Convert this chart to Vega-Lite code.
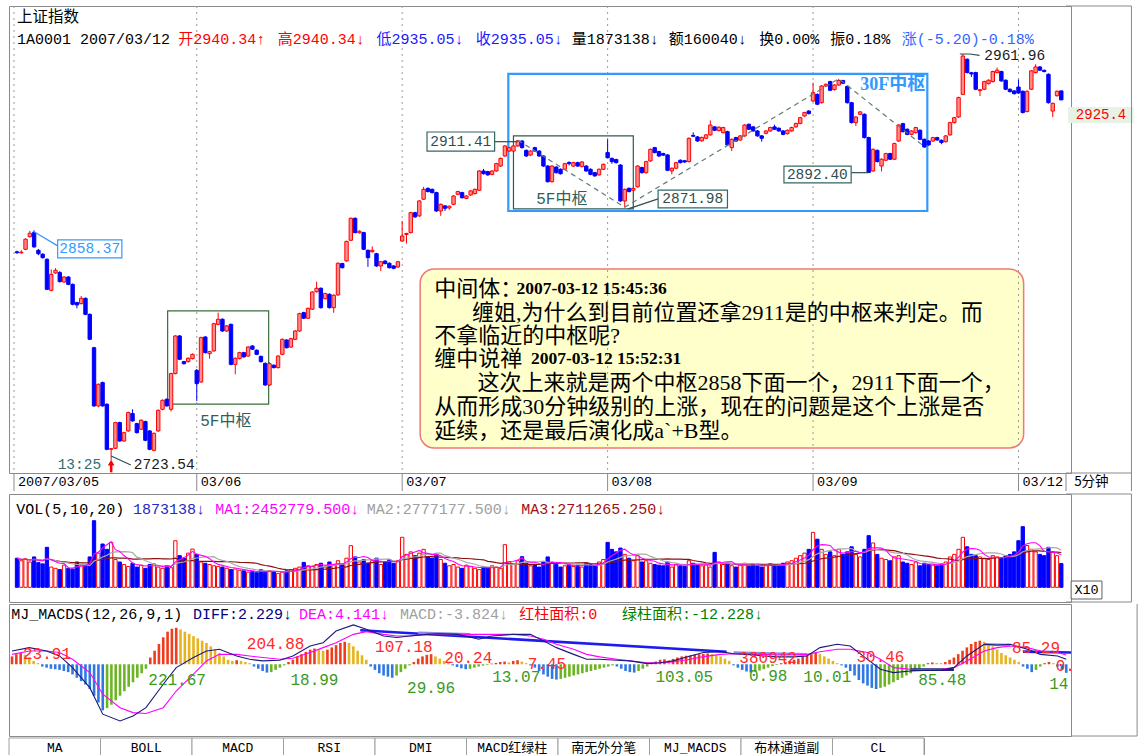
{
"$schema":"https://vega.github.io/schema/vega-lite/v6.json",
"background":"#ffffff",
"padding":{"left":8,"top":5,"right":4,"bottom":5},
"spacing":0,
"config":{"view":{"stroke":"#8a8a8a","strokeWidth":1},"concat":{"spacing":0}},
"datasets":{
"k":[
{"i":0,"o":2845.8,"h":2846.5,"l":2844.6,"c":2845.3,"v":230000,"m":3.5},
{"i":1,"o":2845.2,"h":2846.8,"l":2844.8,"c":2845.6,"v":210000,"m":4.5},
{"i":2,"o":2847.3,"h":2853.8,"l":2846.8,"c":2853.2,"v":225000,"m":5.0},
{"i":3,"o":2854.7,"h":2858.1,"l":2854.2,"c":2856.7,"v":200000,"m":4.2},
{"i":4,"o":2857.1,"h":2858.4,"l":2848.2,"c":2848.7,"v":240000,"m":3.0},
{"i":5,"o":2846.7,"h":2847.5,"l":2843.8,"c":2844.7,"v":195000,"m":1.5},
{"i":6,"o":2844.4,"h":2845.0,"l":2841.8,"c":2842.4,"v":185000,"m":0.5},
{"i":7,"o":2841.4,"h":2842.0,"l":2823.3,"c":2823.8,"v":316000,"m":-1},
{"i":8,"o":2823.2,"h":2835.5,"l":2822.6,"c":2832.6,"v":160000,"m":-1.5},
{"i":9,"o":2833.4,"h":2836.2,"l":2832.9,"c":2835.0,"v":150000,"m":-2},
{"i":10,"o":2833.6,"h":2834.5,"l":2827.8,"c":2828.3,"v":140000,"m":-2.2},
{"i":11,"o":2828.1,"h":2831.6,"l":2827.6,"c":2831.0,"v":175000,"m":-2.5},
{"i":12,"o":2831.0,"h":2831.6,"l":2826.2,"c":2826.7,"v":150000,"m":-3},
{"i":13,"o":2826.7,"h":2827.2,"l":2814.4,"c":2815.0,"v":145000,"m":-3.5},
{"i":14,"o":2816.0,"h":2816.5,"l":2812.6,"c":2814.6,"v":200000,"m":-4.5},
{"i":15,"o":2815.4,"h":2819.9,"l":2814.9,"c":2818.5,"v":170000,"m":-6},
{"i":16,"o":2818.5,"h":2819.0,"l":2808.6,"c":2809.1,"v":180000,"m":-7.5},
{"i":17,"o":2809.1,"h":2809.6,"l":2794.0,"c":2794.4,"v":240000,"m":-9},
{"i":18,"o":2789.5,"h":2790.0,"l":2754.8,"c":2755.3,"v":526000,"m":-11},
{"i":19,"o":2755.3,"h":2768.5,"l":2754.5,"c":2768.0,"v":270000,"m":-14},
{"i":20,"o":2769.0,"h":2769.6,"l":2754.8,"c":2755.3,"v":342000,"m":-17},
{"i":21,"o":2756.3,"h":2756.8,"l":2729.3,"c":2729.8,"v":300000,"m":-20.5},
{"i":22,"o":2729.8,"h":2730.6,"l":2723.5,"c":2730.2,"v":355000,"m":-19.5},
{"i":23,"o":2730.4,"h":2746.0,"l":2730.0,"c":2745.5,"v":220000,"m":-18},
{"i":24,"o":2745.5,"h":2746.0,"l":2734.2,"c":2734.7,"v":200000,"m":-16},
{"i":25,"o":2734.7,"h":2740.1,"l":2734.2,"c":2739.6,"v":180000,"m":-14},
{"i":26,"o":2740.6,"h":2751.9,"l":2740.1,"c":2751.4,"v":165000,"m":-12},
{"i":27,"o":2750.8,"h":2753.3,"l":2746.0,"c":2746.5,"v":190000,"m":-10},
{"i":28,"o":2744.9,"h":2745.4,"l":2739.1,"c":2739.6,"v":160000,"m":-8},
{"i":29,"o":2741.6,"h":2747.4,"l":2741.1,"c":2746.9,"v":175000,"m":-6},
{"i":30,"o":2746.1,"h":2746.6,"l":2734.6,"c":2735.1,"v":150000,"m":-4},
{"i":31,"o":2740.6,"h":2741.1,"l":2729.3,"c":2729.8,"v":180000,"m":-2},
{"i":32,"o":2729.2,"h":2739.7,"l":2728.7,"c":2739.2,"v":185000,"m":3},
{"i":33,"o":2740.6,"h":2753.2,"l":2740.1,"c":2752.7,"v":160000,"m":6},
{"i":34,"o":2753.3,"h":2759.1,"l":2752.8,"c":2758.6,"v":150000,"m":9},
{"i":35,"o":2759.2,"h":2759.7,"l":2754.8,"c":2755.3,"v":170000,"m":12},
{"i":36,"o":2753.3,"h":2774.8,"l":2752.0,"c":2774.3,"v":155000,"m":14.5},
{"i":37,"o":2774.3,"h":2796.9,"l":2773.8,"c":2796.4,"v":368000,"m":15.8},
{"i":38,"o":2796.4,"h":2796.9,"l":2782.2,"c":2782.7,"v":250000,"m":16.2},
{"i":39,"o":2781.3,"h":2781.8,"l":2779.6,"c":2780.1,"v":230000,"m":15.5},
{"i":40,"o":2781.3,"h":2783.8,"l":2780.8,"c":2783.3,"v":270000,"m":14.5},
{"i":41,"o":2783.1,"h":2786.1,"l":2782.6,"c":2785.6,"v":302000,"m":13.5},
{"i":42,"o":2776.2,"h":2777.0,"l":2758.2,"c":2768.4,"v":260000,"m":12.5},
{"i":43,"o":2769.4,"h":2796.0,"l":2768.9,"c":2795.4,"v":200000,"m":11.5},
{"i":44,"o":2795.8,"h":2796.3,"l":2786.1,"c":2786.6,"v":190000,"m":10.5},
{"i":45,"o":2786.0,"h":2787.7,"l":2783.0,"c":2787.2,"v":180000,"m":9.5},
{"i":46,"o":2787.6,"h":2804.1,"l":2787.1,"c":2803.6,"v":170000,"m":8},
{"i":47,"o":2803.2,"h":2810.1,"l":2802.7,"c":2806.2,"v":165000,"m":6.5},
{"i":48,"o":2806.2,"h":2806.7,"l":2798.8,"c":2799.3,"v":160000,"m":5},
{"i":49,"o":2799.3,"h":2802.8,"l":2798.8,"c":2802.3,"v":150000,"m":3.5},
{"i":50,"o":2803.2,"h":2803.7,"l":2779.2,"c":2779.7,"v":140000,"m":2},
{"i":51,"o":2779.7,"h":2783.8,"l":2773.9,"c":2783.3,"v":145000,"m":1.5},
{"i":52,"o":2783.1,"h":2787.1,"l":2782.6,"c":2786.6,"v":135000,"m":1.8},
{"i":53,"o":2786.6,"h":2787.1,"l":2783.6,"c":2784.1,"v":130000,"m":1.5},
{"i":54,"o":2784.6,"h":2790.4,"l":2784.1,"c":2789.9,"v":120000,"m":1},
{"i":55,"o":2790.5,"h":2791.0,"l":2788.1,"c":2788.6,"v":125000,"m":0.5},
{"i":56,"o":2788.0,"h":2788.5,"l":2785.1,"c":2785.6,"v":115000,"m":-1},
{"i":57,"o":2784.4,"h":2784.9,"l":2780.8,"c":2781.3,"v":140000,"m":-2},
{"i":58,"o":2780.3,"h":2780.8,"l":2767.1,"c":2767.6,"v":120000,"m":-3},
{"i":59,"o":2767.6,"h":2781.0,"l":2767.1,"c":2780.1,"v":130000,"m":-3.7},
{"i":60,"o":2779.2,"h":2779.7,"l":2777.3,"c":2777.8,"v":125000,"m":-3.5},
{"i":61,"o":2777.8,"h":2785.1,"l":2777.3,"c":2784.6,"v":110000,"m":-2.5},
{"i":62,"o":2785.6,"h":2794.9,"l":2785.1,"c":2794.4,"v":120000,"m":-1.5},
{"i":63,"o":2794.0,"h":2794.5,"l":2789.0,"c":2789.5,"v":130000,"m":-0.5},
{"i":64,"o":2789.9,"h":2795.3,"l":2789.4,"c":2794.8,"v":140000,"m":1},
{"i":65,"o":2794.4,"h":2799.8,"l":2793.9,"c":2799.3,"v":150000,"m":2},
{"i":66,"o":2799.3,"h":2810.0,"l":2798.8,"c":2809.5,"v":160000,"m":3.5},
{"i":67,"o":2810.1,"h":2810.6,"l":2806.3,"c":2806.8,"v":197000,"m":4.5},
{"i":68,"o":2806.8,"h":2813.1,"l":2806.3,"c":2812.6,"v":170000,"m":5.5},
{"i":69,"o":2812.1,"h":2822.7,"l":2811.6,"c":2822.2,"v":165000,"m":6.5},
{"i":70,"o":2822.4,"h":2828.3,"l":2821.9,"c":2824.4,"v":180000,"m":7},
{"i":71,"o":2824.4,"h":2824.9,"l":2812.5,"c":2813.0,"v":190000,"m":6.5},
{"i":72,"o":2818.3,"h":2821.8,"l":2817.8,"c":2821.3,"v":160000,"m":6},
{"i":73,"o":2820.9,"h":2821.4,"l":2812.5,"c":2813.0,"v":200000,"m":6.5},
{"i":74,"o":2813.0,"h":2820.8,"l":2810.0,"c":2820.3,"v":175000,"m":7.5},
{"i":75,"o":2820.5,"h":2839.6,"l":2820.0,"c":2839.1,"v":210000,"m":8.5},
{"i":76,"o":2838.9,"h":2839.4,"l":2836.0,"c":2836.5,"v":180000,"m":9.5},
{"i":77,"o":2840.5,"h":2852.4,"l":2840.0,"c":2851.9,"v":230000,"m":10},
{"i":78,"o":2852.6,"h":2866.0,"l":2852.1,"c":2865.5,"v":329000,"m":9.5},
{"i":79,"o":2865.5,"h":2866.0,"l":2856.6,"c":2857.1,"v":240000,"m":8},
{"i":80,"o":2857.0,"h":2858.5,"l":2856.5,"c":2857.9,"v":200000,"m":6},
{"i":81,"o":2857.1,"h":2857.6,"l":2846.8,"c":2847.3,"v":220000,"m":4},
{"i":82,"o":2846.7,"h":2847.2,"l":2837.0,"c":2842.4,"v":190000,"m":2},
{"i":83,"o":2845.9,"h":2849.0,"l":2845.4,"c":2846.7,"v":210000,"m":-1},
{"i":84,"o":2844.7,"h":2845.2,"l":2837.0,"c":2837.5,"v":230000,"m":-2.5},
{"i":85,"o":2837.5,"h":2840.5,"l":2834.5,"c":2840.0,"v":180000,"m":-4},
{"i":86,"o":2840.4,"h":2840.9,"l":2838.4,"c":2838.9,"v":200000,"m":-5},
{"i":87,"o":2839.1,"h":2839.6,"l":2836.0,"c":2836.5,"v":220000,"m":-5.5},
{"i":88,"o":2837.5,"h":2838.0,"l":2835.6,"c":2836.1,"v":190000,"m":-6},
{"i":89,"o":2836.9,"h":2840.5,"l":2836.4,"c":2840.0,"v":210000,"m":-5},
{"i":90,"o":2852.2,"h":2863.9,"l":2851.7,"c":2855.1,"v":395000,"m":-3.5},
{"i":91,"o":2856.0,"h":2857.0,"l":2850.6,"c":2856.6,"v":260000,"m":-2},
{"i":92,"o":2857.1,"h":2869.3,"l":2856.6,"c":2868.8,"v":280000,"m":-0.5},
{"i":93,"o":2868.8,"h":2869.3,"l":2865.8,"c":2866.3,"v":250000,"m":1},
{"i":94,"o":2866.9,"h":2876.2,"l":2866.4,"c":2875.7,"v":270000,"m":2.5},
{"i":95,"o":2876.7,"h":2884.0,"l":2876.2,"c":2882.5,"v":300000,"m":3.5},
{"i":96,"o":2883.1,"h":2883.6,"l":2880.7,"c":2881.2,"v":240000,"m":4.2},
{"i":97,"o":2882.5,"h":2883.0,"l":2880.1,"c":2880.6,"v":230000,"m":4.5},
{"i":98,"o":2880.6,"h":2881.1,"l":2869.3,"c":2869.8,"v":260000,"m":3.5},
{"i":99,"o":2869.8,"h":2874.2,"l":2867.0,"c":2873.7,"v":220000,"m":2.5},
{"i":100,"o":2872.8,"h":2873.3,"l":2869.8,"c":2871.4,"v":190000,"m":1.5},
{"i":101,"o":2871.6,"h":2873.0,"l":2870.5,"c":2872.6,"v":170000,"m":0.5},
{"i":102,"o":2873.7,"h":2879.1,"l":2873.2,"c":2878.6,"v":180000,"m":-0.5},
{"i":103,"o":2879.6,"h":2881.7,"l":2879.1,"c":2881.2,"v":160000,"m":-1.2},
{"i":104,"o":2880.6,"h":2881.1,"l":2877.1,"c":2877.6,"v":150000,"m":-1.8},
{"i":105,"o":2877.2,"h":2879.1,"l":2876.7,"c":2878.6,"v":175000,"m":-2.2},
{"i":106,"o":2879.2,"h":2882.1,"l":2878.7,"c":2881.6,"v":165000,"m":-2},
{"i":107,"o":2880.0,"h":2883.0,"l":2879.5,"c":2882.5,"v":150000,"m":-1.5},
{"i":108,"o":2882.0,"h":2893.8,"l":2881.5,"c":2893.3,"v":140000,"m":-1},
{"i":109,"o":2893.3,"h":2894.5,"l":2891.2,"c":2891.7,"v":160000,"m":-0.6},
{"i":110,"o":2892.9,"h":2893.4,"l":2890.5,"c":2891.0,"v":155000,"m":-0.3},
{"i":111,"o":2891.3,"h":2893.8,"l":2890.8,"c":2893.3,"v":170000,"m":0.3},
{"i":112,"o":2893.3,"h":2898.1,"l":2892.8,"c":2897.6,"v":160000,"m":0.6},
{"i":113,"o":2896.2,"h":2901.2,"l":2895.7,"c":2900.7,"v":150000,"m":1},
{"i":114,"o":2902.1,"h":2908.5,"l":2901.6,"c":2908.0,"v":337000,"m":1.2},
{"i":115,"o":2905.0,"h":2907.5,"l":2904.5,"c":2907.0,"v":200000,"m":0.8},
{"i":116,"o":2905.0,"h":2908.5,"l":2904.5,"c":2908.0,"v":180000,"m":1.5},
{"i":117,"o":2908.0,"h":2911.4,"l":2907.5,"c":2911.0,"v":210000,"m":1.8},
{"i":118,"o":2910.9,"h":2911.4,"l":2906.5,"c":2907.0,"v":242000,"m":1.2},
{"i":119,"o":2905.4,"h":2905.9,"l":2901.6,"c":2902.1,"v":190000,"m":0.5},
{"i":120,"o":2902.7,"h":2905.5,"l":2902.2,"c":2905.0,"v":170000,"m":-0.5},
{"i":121,"o":2907.0,"h":2907.5,"l":2904.5,"c":2905.0,"v":180000,"m":-1.5},
{"i":122,"o":2905.0,"h":2905.5,"l":2901.6,"c":2902.1,"v":160000,"m":-3},
{"i":123,"o":2902.1,"h":2902.6,"l":2895.7,"c":2896.2,"v":200000,"m":-4.5},
{"i":124,"o":2896.2,"h":2896.7,"l":2886.5,"c":2887.0,"v":240000,"m":-5.5},
{"i":125,"o":2887.0,"h":2896.7,"l":2886.5,"c":2896.2,"v":200000,"m":-6.5},
{"i":126,"o":2895.6,"h":2896.1,"l":2891.8,"c":2892.3,"v":180000,"m":-6.8},
{"i":127,"o":2894.3,"h":2894.8,"l":2891.2,"c":2891.7,"v":160000,"m":-6.5},
{"i":128,"o":2894.3,"h":2898.1,"l":2893.8,"c":2897.6,"v":170000,"m":-6},
{"i":129,"o":2898.3,"h":2899.0,"l":2896.5,"c":2897.6,"v":180000,"m":-5.5},
{"i":130,"o":2896.2,"h":2898.7,"l":2895.7,"c":2898.2,"v":165000,"m":-5},
{"i":131,"o":2898.2,"h":2898.7,"l":2895.7,"c":2896.2,"v":175000,"m":-4.5},
{"i":132,"o":2895.9,"h":2899.1,"l":2895.4,"c":2898.6,"v":160000,"m":-4},
{"i":133,"o":2896.2,"h":2896.7,"l":2892.8,"c":2893.3,"v":190000,"m":-3.5},
{"i":134,"o":2894.3,"h":2894.8,"l":2890.8,"c":2891.3,"v":180000,"m":-3},
{"i":135,"o":2892.3,"h":2892.8,"l":2889.9,"c":2890.4,"v":170000,"m":-2.5},
{"i":136,"o":2891.0,"h":2894.8,"l":2890.5,"c":2894.3,"v":200000,"m":-2},
{"i":137,"o":2894.3,"h":2897.7,"l":2893.8,"c":2897.2,"v":220000,"m":-1.5},
{"i":138,"o":2904.1,"h":2911.9,"l":2900.6,"c":2901.1,"v":355000,"m":-1},
{"i":139,"o":2900.7,"h":2901.2,"l":2897.5,"c":2898.8,"v":300000,"m":-0.5},
{"i":140,"o":2900.0,"h":2900.5,"l":2897.7,"c":2898.2,"v":280000,"m":-1},
{"i":141,"o":2896.8,"h":2897.3,"l":2875.2,"c":2875.7,"v":310000,"m":-2},
{"i":142,"o":2875.7,"h":2883.0,"l":2872.0,"c":2882.5,"v":260000,"m":-3},
{"i":143,"o":2883.1,"h":2883.6,"l":2880.7,"c":2881.2,"v":230000,"m":-3.5},
{"i":144,"o":2882.0,"h":2883.6,"l":2881.5,"c":2883.1,"v":210000,"m":-3.7},
{"i":145,"o":2884.0,"h":2896.7,"l":2883.5,"c":2896.2,"v":250000,"m":-3},
{"i":146,"o":2895.3,"h":2895.8,"l":2891.8,"c":2892.3,"v":200000,"m":-2},
{"i":147,"o":2892.3,"h":2899.3,"l":2891.8,"c":2898.8,"v":210000,"m":-1},
{"i":148,"o":2899.2,"h":2906.5,"l":2898.7,"c":2906.0,"v":190000,"m":0.5},
{"i":149,"o":2907.0,"h":2907.5,"l":2903.6,"c":2904.1,"v":180000,"m":1.2},
{"i":150,"o":2904.7,"h":2905.2,"l":2901.6,"c":2902.1,"v":175000,"m":2},
{"i":151,"o":2903.5,"h":2904.0,"l":2902.1,"c":2902.6,"v":170000,"m":2.2},
{"i":152,"o":2902.7,"h":2903.2,"l":2893.2,"c":2893.7,"v":200000,"m":1.8},
{"i":153,"o":2893.3,"h":2895.4,"l":2891.3,"c":2894.9,"v":160000,"m":2.4},
{"i":154,"o":2894.9,"h":2898.7,"l":2894.4,"c":2898.2,"v":180000,"m":3},
{"i":155,"o":2899.6,"h":2900.1,"l":2897.7,"c":2898.2,"v":170000,"m":3.5},
{"i":156,"o":2899.3,"h":2899.8,"l":2898.0,"c":2898.6,"v":165000,"m":3.8},
{"i":157,"o":2898.8,"h":2913.0,"l":2898.3,"c":2912.5,"v":210000,"m":4},
{"i":158,"o":2914.2,"h":2916.0,"l":2913.2,"c":2913.7,"v":190000,"m":4.3},
{"i":159,"o":2913.3,"h":2913.8,"l":2910.4,"c":2910.9,"v":180000,"m":4.5},
{"i":160,"o":2911.0,"h":2913.5,"l":2910.5,"c":2913.0,"v":170000,"m":4.6},
{"i":161,"o":2912.5,"h":2915.0,"l":2912.0,"c":2914.5,"v":175000,"m":4.8},
{"i":162,"o":2914.5,"h":2923.0,"l":2914.0,"c":2920.3,"v":160000,"m":4.5},
{"i":163,"o":2919.2,"h":2919.7,"l":2916.7,"c":2917.2,"v":276000,"m":4},
{"i":164,"o":2917.0,"h":2919.5,"l":2916.5,"c":2919.0,"v":200000,"m":3.5},
{"i":165,"o":2915.8,"h":2919.3,"l":2915.3,"c":2918.8,"v":180000,"m":2.5},
{"i":166,"o":2916.4,"h":2916.9,"l":2908.1,"c":2908.6,"v":190000,"m":1.5},
{"i":167,"o":2907.0,"h":2912.4,"l":2905.0,"c":2911.9,"v":170000,"m":-0.5},
{"i":168,"o":2912.9,"h":2913.4,"l":2910.4,"c":2910.9,"v":160000,"m":-1.5},
{"i":169,"o":2911.5,"h":2914.4,"l":2911.0,"c":2913.9,"v":175000,"m":-2.5},
{"i":170,"o":2913.9,"h":2920.8,"l":2913.4,"c":2920.3,"v":190000,"m":-3.2},
{"i":171,"o":2920.7,"h":2921.2,"l":2917.3,"c":2917.8,"v":165000,"m":-3.7},
{"i":172,"o":2919.2,"h":2919.7,"l":2916.3,"c":2916.8,"v":180000,"m":-3.3},
{"i":173,"o":2916.8,"h":2917.3,"l":2913.4,"c":2913.9,"v":170000,"m":-2.8},
{"i":174,"o":2913.9,"h":2914.4,"l":2910.5,"c":2912.5,"v":160000,"m":-2.2},
{"i":175,"o":2915.4,"h":2917.3,"l":2914.9,"c":2916.8,"v":175000,"m":-1.5},
{"i":176,"o":2916.8,"h":2919.3,"l":2916.3,"c":2918.8,"v":185000,"m":-0.8},
{"i":177,"o":2919.2,"h":2920.5,"l":2917.3,"c":2917.8,"v":170000,"m":-0.3},
{"i":178,"o":2918.4,"h":2918.9,"l":2916.3,"c":2916.8,"v":180000,"m":0.5},
{"i":179,"o":2916.8,"h":2917.3,"l":2914.3,"c":2914.8,"v":190000,"m":1},
{"i":180,"o":2915.2,"h":2917.7,"l":2914.7,"c":2917.2,"v":200000,"m":1.5},
{"i":181,"o":2916.8,"h":2919.3,"l":2916.3,"c":2918.8,"v":210000,"m":2},
{"i":182,"o":2919.2,"h":2921.7,"l":2918.7,"c":2921.2,"v":230000,"m":2.5},
{"i":183,"o":2921.2,"h":2925.1,"l":2920.7,"c":2924.6,"v":250000,"m":3.5},
{"i":184,"o":2925.6,"h":2928.1,"l":2925.1,"c":2927.6,"v":270000,"m":4},
{"i":185,"o":2928.5,"h":2929.0,"l":2926.5,"c":2927.0,"v":300000,"m":4.5},
{"i":186,"o":2934.4,"h":2945.2,"l":2933.9,"c":2939.3,"v":434000,"m":5},
{"i":187,"o":2938.3,"h":2938.8,"l":2932.0,"c":2932.5,"v":380000,"m":4.5},
{"i":188,"o":2933.4,"h":2943.7,"l":2932.9,"c":2943.2,"v":300000,"m":3.5},
{"i":189,"o":2943.2,"h":2944.7,"l":2942.7,"c":2944.2,"v":260000,"m":2.5},
{"i":190,"o":2945.8,"h":2946.3,"l":2940.2,"c":2940.7,"v":280000,"m":1.5},
{"i":191,"o":2941.1,"h":2944.3,"l":2940.6,"c":2943.8,"v":250000,"m":0.5},
{"i":192,"o":2943.8,"h":2947.5,"l":2943.3,"c":2946.4,"v":300000,"m":-0.5},
{"i":193,"o":2946.4,"h":2946.9,"l":2944.3,"c":2944.8,"v":260000,"m":-1.5},
{"i":194,"o":2943.0,"h":2943.5,"l":2932.9,"c":2933.4,"v":280000,"m":-3},
{"i":195,"o":2933.4,"h":2933.9,"l":2921.2,"c":2921.7,"v":320000,"m":-5},
{"i":196,"o":2921.7,"h":2925.5,"l":2919.7,"c":2925.0,"v":260000,"m":-7},
{"i":197,"o":2926.6,"h":2928.5,"l":2926.1,"c":2928.0,"v":240000,"m":-8.5},
{"i":198,"o":2926.6,"h":2927.1,"l":2912.4,"c":2912.9,"v":300000,"m":-9.5},
{"i":199,"o":2912.9,"h":2913.4,"l":2892.4,"c":2892.4,"v":408000,"m":-10.5},
{"i":200,"o":2893.3,"h":2906.5,"l":2892.8,"c":2906.0,"v":350000,"m":-11},
{"i":201,"o":2905.4,"h":2905.9,"l":2898.3,"c":2898.8,"v":260000,"m":-10.5},
{"i":202,"o":2896.2,"h":2900.7,"l":2893.0,"c":2900.2,"v":230000,"m":-10},
{"i":203,"o":2899.6,"h":2904.0,"l":2899.1,"c":2903.5,"v":220000,"m":-9},
{"i":204,"o":2903.5,"h":2904.0,"l":2899.7,"c":2900.2,"v":210000,"m":-8},
{"i":205,"o":2900.2,"h":2909.9,"l":2899.7,"c":2909.4,"v":240000,"m":-7},
{"i":206,"o":2910.9,"h":2920.8,"l":2910.4,"c":2920.3,"v":250000,"m":-6},
{"i":207,"o":2921.1,"h":2921.6,"l":2915.9,"c":2916.4,"v":200000,"m":-5},
{"i":208,"o":2917.8,"h":2918.3,"l":2914.3,"c":2914.8,"v":190000,"m":-4},
{"i":209,"o":2914.8,"h":2917.3,"l":2914.3,"c":2916.8,"v":180000,"m":-3},
{"i":210,"o":2915.8,"h":2919.3,"l":2915.3,"c":2918.8,"v":200000,"m":-2},
{"i":211,"o":2917.2,"h":2917.7,"l":2911.4,"c":2911.9,"v":170000,"m":-1},
{"i":212,"o":2911.9,"h":2912.4,"l":2906.9,"c":2907.4,"v":190000,"m":0.5},
{"i":213,"o":2910.9,"h":2911.4,"l":2908.1,"c":2908.6,"v":180000,"m":0.8},
{"i":214,"o":2910.9,"h":2913.4,"l":2910.4,"c":2912.9,"v":175000,"m":0.6},
{"i":215,"o":2912.9,"h":2913.4,"l":2911.0,"c":2911.5,"v":170000,"m":0.5},
{"i":216,"o":2911.3,"h":2911.8,"l":2909.0,"c":2910.0,"v":185000,"m":1},
{"i":217,"o":2910.5,"h":2914.4,"l":2910.0,"c":2913.9,"v":200000,"m":2},
{"i":218,"o":2914.5,"h":2922.2,"l":2914.0,"c":2921.7,"v":240000,"m":3},
{"i":219,"o":2921.7,"h":2925.1,"l":2921.2,"c":2924.6,"v":260000,"m":4.5},
{"i":220,"o":2925.0,"h":2936.9,"l":2924.5,"c":2936.4,"v":300000,"m":6},
{"i":221,"o":2938.3,"h":2962.0,"l":2937.8,"c":2960.8,"v":395000,"m":7.5},
{"i":222,"o":2958.9,"h":2959.4,"l":2950.6,"c":2951.1,"v":320000,"m":9},
{"i":223,"o":2951.0,"h":2951.5,"l":2948.5,"c":2950.3,"v":260000,"m":10},
{"i":224,"o":2951.1,"h":2951.6,"l":2940.8,"c":2941.3,"v":250000,"m":10.5},
{"i":225,"o":2940.5,"h":2941.5,"l":2937.3,"c":2941.0,"v":240000,"m":10},
{"i":226,"o":2941.3,"h":2946.3,"l":2940.8,"c":2945.8,"v":230000,"m":9},
{"i":227,"o":2944.6,"h":2947.1,"l":2944.1,"c":2946.6,"v":220000,"m":8},
{"i":228,"o":2945.8,"h":2952.2,"l":2945.3,"c":2951.7,"v":250000,"m":6.5},
{"i":229,"o":2951.1,"h":2954.0,"l":2950.6,"c":2952.5,"v":240000,"m":5},
{"i":230,"o":2951.7,"h":2952.2,"l":2945.7,"c":2946.2,"v":230000,"m":4},
{"i":231,"o":2946.6,"h":2947.1,"l":2940.8,"c":2941.3,"v":250000,"m":3},
{"i":232,"o":2941.3,"h":2941.8,"l":2939.4,"c":2939.9,"v":260000,"m":2},
{"i":233,"o":2940.3,"h":2940.8,"l":2938.2,"c":2938.7,"v":280000,"m":1},
{"i":234,"o":2942.6,"h":2947.0,"l":2938.6,"c":2939.1,"v":368000,"m":-1},
{"i":235,"o":2940.1,"h":2940.6,"l":2927.1,"c":2927.6,"v":479000,"m":-2},
{"i":236,"o":2928.2,"h":2940.6,"l":2927.7,"c":2940.1,"v":330000,"m":-3.5},
{"i":237,"o":2941.3,"h":2952.6,"l":2940.8,"c":2952.1,"v":300000,"m":-2.5},
{"i":238,"o":2951.1,"h":2956.0,"l":2950.6,"c":2954.4,"v":280000,"m":-1},
{"i":239,"o":2954.4,"h":2954.9,"l":2952.0,"c":2952.5,"v":260000,"m":0.5},
{"i":240,"o":2952.4,"h":2952.9,"l":2951.2,"c":2951.7,"v":250000,"m":1},
{"i":241,"o":2950.1,"h":2950.6,"l":2932.9,"c":2933.4,"v":316000,"m":0.5},
{"i":242,"o":2928.5,"h":2933.5,"l":2925.0,"c":2933.0,"v":280000,"m":-1},
{"i":243,"o":2937.5,"h":2940.6,"l":2937.0,"c":2940.1,"v":250000,"m":-2.5},
{"i":244,"o":2940.34,"h":2940.34,"l":2935.05,"c":2935.05,"v":187314,"m":-3.8}
],
"dl":[{"i":0,"d":5.9,"e":4.4},{"i":4,"d":7.4,"e":5.9},{"i":8,"d":5.9,"e":5.9},{"i":11,"d":3.7,"e":5.2},{"i":14,"d":-1.5,"e":2.2},{"i":18,"d":-10.4,"e":-3.7},{"i":21,"d":-22.2,"e":-13.3},{"i":25,"d":-25.2,"e":-19.3},{"i":28,"d":-23,"e":-21.5},{"i":31,"d":-19.3,"e":-21.9},{"i":35,"d":-8.9,"e":-19.3},{"i":38,"d":-1.5,"e":-11.9},{"i":42,"d":3,"e":-4.4},{"i":45,"d":5.9,"e":1.5},{"i":48,"d":6.7,"e":4.4},{"i":52,"d":3.7,"e":4.4},{"i":55,"d":2.2,"e":3.7},{"i":58,"d":1.5,"e":3},{"i":62,"d":1.8,"e":2.2},{"i":65,"d":3.7,"e":2.7},{"i":69,"d":8.1,"e":5.2},{"i":72,"d":9.6,"e":7.4},{"i":75,"d":14.8,"e":9.6},{"i":79,"d":17.5,"e":13.3},{"i":82,"d":15.6,"e":14.5},{"i":86,"d":12.6,"e":13.3},{"i":89,"d":11.9,"e":12.6},{"i":92,"d":12.6,"e":12.6},{"i":96,"d":13.3,"e":13.3},{"i":99,"d":13.6,"e":13.6},{"i":103,"d":13.3,"e":13.4},{"i":106,"d":12.1,"e":13.3},{"i":108,"d":11.1,"e":13.3},{"i":111,"d":12.6,"e":13.3},{"i":116,"d":13.3,"e":13.3},{"i":120,"d":13.3,"e":12.6},{"i":123,"d":10.4,"e":11.1},{"i":126,"d":7.4,"e":8.9},{"i":130,"d":4.4,"e":6.7},{"i":133,"d":2.2,"e":4.4},{"i":136,"d":2.2,"e":3.3},{"i":140,"d":1.8,"e":2.2},{"i":143,"d":1.5,"e":1.5},{"i":147,"d":0.3,"e":0.7},{"i":150,"d":0.7,"e":0.7},{"i":153,"d":1.5,"e":1.0},{"i":157,"d":3.7,"e":2.2},{"i":160,"d":5.2,"e":3.4},{"i":164,"d":5.6,"e":4.4},{"i":167,"d":4.7,"e":4.7},{"i":170,"d":4.4,"e":4.5},{"i":174,"d":3.7,"e":4.4},{"i":177,"d":3.3,"e":4.1},{"i":181,"d":3.3,"e":4.2},{"i":184,"d":3.7,"e":4.4},{"i":187,"d":7.4,"e":5.6},{"i":191,"d":8.9,"e":6.7},{"i":194,"d":8.1,"e":6.7},{"i":198,"d":2.2,"e":5.2},{"i":201,"d":-2.2,"e":2.2},{"i":204,"d":-3.7,"e":-1.5},{"i":208,"d":-3,"e":-2.2},{"i":211,"d":-2.7,"e":-2.3},{"i":215,"d":-2.7,"e":-2.2},{"i":218,"d":-1.5,"e":-1.5},{"i":221,"d":3.7,"e":1.5},{"i":225,"d":8.9,"e":5.9},{"i":228,"d":8.6,"e":7.4},{"i":231,"d":8.9,"e":8.1},{"i":235,"d":6.7,"e":7.4},{"i":238,"d":4.4,"e":5.9},{"i":242,"d":3.7,"e":5.2},{"i":244,"d":2.229,"e":4.141}],
"tl":[{"g":1,"k":"b","i":80.6,"m":15.1},{"g":1,"k":"b","i":165.4,"m":5.6},{"g":2,"k":"b","i":234,"m":5.6},{"g":2,"k":"b","i":245.1,"m":5.2},{"g":3,"k":"v","i":94,"m":14},{"g":3,"k":"v","i":106,"m":13.3},{"g":4,"k":"v","i":167,"m":5.2},{"g":4,"k":"v","i":184,"m":4.4},{"g":5,"k":"v","i":225,"m":8.9},{"g":5,"k":"v","i":231,"m":8.5},{"g":6,"k":"n","i":208,"m":-2.4},{"g":6,"k":"n","i":218,"m":-2.4}],
"ml":[{"i":8.1,"m":4.4,"t":"23.91","k":"r"},{"i":38.2,"m":-7.1,"t":"221.67","k":"g"},{"i":61,"m":9.2,"t":"204.88","k":"r"},{"i":70,"m":-7.1,"t":"18.99","k":"g"},{"i":90.7,"m":7.7,"t":"107.18","k":"r"},{"i":97,"m":-10.7,"t":"29.96","k":"g"},{"i":105.6,"m":2.9,"t":"20.24","k":"r"},{"i":116.7,"m":-5.6,"t":"13.07","k":"g"},{"i":123.8,"m":0,"t":"7.45","k":"r"},{"i":155.6,"m":-5.6,"t":"103.05","k":"g"},{"i":175,"m":2.9,"t":"380942","k":"r"},{"i":175,"m":-5.2,"t":"0.98","k":"g"},{"i":188.7,"m":-5.6,"t":"10.01","k":"g"},{"i":201,"m":3.3,"t":"30.46","k":"r"},{"i":215.3,"m":-7.1,"t":"85.48","k":"g"},{"i":237,"m":7.4,"t":"85.29","k":"r"},{"i":245.6,"m":-8.9,"t":"14.27","k":"g"},{"i":246,"m":-0.7,"t":"0.86","k":"r"}],
"frames":[{"i":35.2,"i2":58.8,"p":2811.1,"p2":2756.4,"k":"f5"},{"i":116.0,"i2":144.0,"p":2913.9,"p2":2871.0,"k":"f5b"},{"i":114.8,"i2":212.7,"p":2950.3,"p2":2869.8,"k":"f30"}],
"note":[{"i":94.2,"i2":235.2,"p":2835.7,"p2":2730.6}],
"lbox":[{"i":9.5,"i2":24.5,"ci":17.0,"p":2852.8,"p2":2842.2,"cp":2847.5,"t":"2858.37","k":"hi"},{"i":95.8,"i2":111.6,"ci":103.7,"p":2916.2,"p2":2905.0,"cp":2910.6,"t":"2911.41","k":"pt"},{"i":149.8,"i2":166.0,"ci":157.9,"p":2882.1,"p2":2871.6,"cp":2876.9,"t":"2871.98","k":"pt"},{"i":179.2,"i2":194.9,"ci":187.0,"p":2896.2,"p2":2886.3,"cp":2891.2,"t":"2892.40","k":"pt"}],
"zz":[{"i":117,"p":2911.4},{"i":142,"p":2872.0},{"i":192,"p":2947.5},{"i":212.3,"p":2907.0}],
"leads":[{"g":1,"k":"hi","i":3.7,"p":2858.1},{"g":1,"k":"hi","i":9.5,"p":2849.3},{"g":2,"k":"pt","i":22,"p":2725.9},{"g":2,"k":"pt","i":26.6,"p":2720.6},{"g":3,"k":"pt","i":111.6,"p":2910.5},{"g":3,"k":"pt","i":117,"p":2910.5},{"g":4,"k":"pt","i":142.8,"p":2871.0},{"g":4,"k":"pt","i":149.8,"p":2876.9},{"g":5,"k":"pt","i":194.9,"p":2892.3},{"g":5,"k":"pt","i":199,"p":2892.3},{"g":6,"k":"pt","i":220.3,"p":2962.0},{"g":6,"k":"pt","i":222.6,"p":2962.0},{"g":6,"k":"pt","i":224.9,"p":2961.2}],
"ptxt":[{"i":9.5,"p":2720.6,"t":"13:25","k":"tm"},{"i":27.3,"p":2720.6,"t":"2723.54","k":"n"},{"i":226,"p":2961.0,"t":"2961.96","k":"n"}],
"zs":[{"i":48.8,"p":2746.5,"t":"5F中枢"},{"i":127.3,"p":2876.9,"t":"5F中枢"}],
"notes":[{"i":97.5,"p":2824.0,"t":"中间体："},{"i":106.3,"p":2809.9,"t":"缠姐,为什么到目前位置还拿2911是的中枢来判定。而"},{"i":97.5,"p":2796.4,"t":"不拿临近的中枢呢?"},{"i":97.5,"p":2782.9,"t":"缠中说禅"},{"i":107.6,"p":2768.8,"t":"这次上来就是两个中枢2858下面一个，2911下面一个，"},{"i":97.5,"p":2754.7,"t":"从而形成30分钟级别的上涨，现在的问题是这个上涨是否"},{"i":97.5,"p":2740.6,"t":"延续，还是最后演化成a`+B型。"}],
"ndates":[{"i":116.7,"p":2824.0,"t":"2007-03-12 15:45:36"},{"i":120.1,"p":2782.9,"t":"2007-03-12 15:52:31"}],
"hdr":[{"i":0,"t":"1A0001 2007/03/12","k":"n"},{"i":37.7,"t":"开2940.34↑","k":"u"},{"i":60.9,"t":"高2940.34↓","k":"u"},{"i":84.0,"t":"低2935.05↓","k":"d"},{"i":107.2,"t":"收2935.05↓","k":"d"},{"i":129.6,"t":"量1873138↓","k":"n"},{"i":152.3,"t":"额160040↓","k":"n"},{"i":173.4,"t":"换0.00%","k":"n"},{"i":190.0,"t":"振0.18%","k":"n"},{"i":206.7,"t":"涨(-5.20)-0.18%","k":"c"}],
"days":[{"i":-0.7,"t":"2007/03/05"},{"i":42,"t":"03/06"},{"i":90,"t":"03/07"},{"i":138,"t":"03/08"},{"i":186,"t":"03/09"},{"i":234,"t":"03/12"}],
"pfr":[{"i":245.1,"i2":260.4,"p":2990.2,"p2":2990.2},{"i":245.1,"i2":260.4,"p":2715.9,"p2":2715.9},{"i":260.4,"i2":260.4,"p":2990.2,"p2":2705.3},{"i":245.1,"i2":245.1,"p":2715.9,"p2":2705.3}],
"vh":[{"i":-0.2,"t":"VOL(5,10,20)","k":"a"},{"i":27.1,"t":"1873138↓","k":"b"},{"i":46.3,"t":"MA1:2452779.500↓","k":"c"},{"i":81.7,"t":"MA2:2777177.500↓","k":"d"},{"i":117.8,"t":"MA3:2711265.250↓","k":"e"}],
"vfr":[{"i":245.1,"i2":260.4,"v":737000,"v2":737000},{"i":245.1,"i2":260.4,"v":-116000,"v2":-116000},{"i":260.4,"i2":260.4,"v":737000,"v2":-116000}],
"mh":[{"i":-0.2,"t":"MJ_MACDS(12,26,9,1)","k":"a"},{"i":41.9,"t":"DIFF:2.229↓","k":"b"},{"i":66.4,"t":"DEA:4.141↓","k":"c"},{"i":89.8,"t":"MACD:-3.824↓","k":"d"},{"i":117.4,"t":"红柱面积:0","k":"e"},{"i":141.2,"t":"绿柱面积:-12.228↓","k":"f"}],
"mfr":[{"i":245.1,"i2":260.4,"m":-31.9,"m2":-31.9},{"i":260.4,"i2":260.4,"m":26.8,"m2":-31.9}],
"tabs":[{"t":"MA"},{"t":"BOLL"},{"t":"MACD"},{"t":"RSI"},{"t":"DMI"},{"t":"MACD红绿柱"},{"t":"南无外分笔"},{"t":"MJ_MACDS"},{"t":"布林通道副"},{"t":"CL"}]
},
"vconcat":[
{
"width":1062,"height":467,
"layer":[
{"data":{"name":"note"},"mark":{"type":"rect","fill":"#ffffcc","stroke":"#f07878","strokeWidth":1.5,"cornerRadius":14},
 "encoding":{
  "x":{"field":"i","type":"quantitative","scale":{"domain":[-0.7,245.1],"nice":false,"zero":false},"axis":null},
  "x2":{"field":"i2"},
  "y":{"field":"p","type":"quantitative","scale":{"domain":[2715.9,2990.2],"nice":false,"zero":false},
   "axis":{"orient":"right","values":[2740,2760,2780,2800,2820,2840,2860,2880,2900,2920,2940,2960],"format":".1f","grid":true,"gridColor":"#9a9a9a","gridDash":[2,4],"tickSize":6,"tickColor":"#606060","domain":false,"labelAlign":"right","labelBaseline":"middle","labelPadding":63,"labelFont":"Liberation Mono","labelFontSize":14,"labelColor":"#000000","title":null}},
  "y2":{"field":"p2"}}},
{"data":{"name":"days"},"mark":{"type":"rule","color":"#9a9a9a","strokeDash":[2,4],"strokeWidth":1},
 "encoding":{"x":{"field":"i","type":"quantitative","scale":{"domain":[-0.7,245.1],"nice":false,"zero":false},"axis":null},
  "y":{"datum":2990.2,"type":"quantitative","scale":{"domain":[2715.9,2990.2],"nice":false,"zero":false},"axis":null},"y2":{"datum":2715.9}}},
{"data":{"name":"days"},"mark":{"type":"rule","color":"#8a8a8a","strokeWidth":1},
 "encoding":{"x":{"field":"i","type":"quantitative","scale":{"domain":[-0.7,245.1],"nice":false,"zero":false},"axis":null},
  "y":{"datum":2715.9,"type":"quantitative","scale":{"domain":[2715.9,2990.2],"nice":false,"zero":false},"axis":null},"y2":{"datum":2705.3}}},
{"data":{"name":"days"},"mark":{"type":"text","align":"left","baseline":"middle","dx":4,"font":"Liberation Mono","fontSize":13.5,"color":"#000000"},
 "encoding":{"x":{"field":"i","type":"quantitative","scale":{"domain":[-0.7,245.1],"nice":false,"zero":false},"axis":null},
  "y":{"datum":2710.6,"type":"quantitative","scale":{"domain":[2715.9,2990.2],"nice":false,"zero":false},"axis":null},
  "text":{"field":"t"}}},
{"data":{"name":"frames"},"mark":{"type":"rect","fillOpacity":0,"fill":"#ffffff"},
 "encoding":{"x":{"field":"i","type":"quantitative","scale":{"domain":[-0.7,245.1],"nice":false,"zero":false},"axis":null},"x2":{"field":"i2"},
  "y":{"field":"p","type":"quantitative","scale":{"domain":[2715.9,2990.2],"nice":false,"zero":false},"axis":null},"y2":{"field":"p2"},
  "stroke":{"condition":[{"test":"datum.k == 'f30'","value":"#3399ff"},{"test":"datum.k == 'f5'","value":"#3a6e3a"}],"value":"#2f5a50"},
  "strokeWidth":{"condition":{"test":"datum.k == 'f30'","value":2.2},"value":1.2}}},
{"data":{"name":"k"},"mark":{"type":"rule","strokeWidth":1},
 "encoding":{"x":{"field":"i","type":"quantitative","scale":{"domain":[-0.7,245.1],"nice":false,"zero":false},"axis":null},
  "y":{"field":"l","type":"quantitative","scale":{"domain":[2715.9,2990.2],"nice":false,"zero":false},"axis":null},"y2":{"field":"h"},
  "color":{"condition":{"test":"datum.c >= datum.o","value":"#ff0000"},"value":"#0000ff"}}},
{"data":{"name":"k"},"mark":{"type":"bar","size":3.4,"strokeWidth":1},
 "encoding":{"x":{"field":"i","type":"quantitative","scale":{"domain":[-0.7,245.1],"nice":false,"zero":false},"axis":null},
  "y":{"field":"o","type":"quantitative","scale":{"domain":[2715.9,2990.2],"nice":false,"zero":false},"axis":null},"y2":{"field":"c"},
  "fill":{"condition":{"test":"datum.c >= datum.o","value":"#ff8f8f"},"value":"#0000ff"},
  "stroke":{"condition":{"test":"datum.c >= datum.o","value":"#ff0000"},"value":"#0000ff"}}},
{"data":{"name":"zz"},"mark":{"type":"line","color":"#5f7f6f","strokeDash":[5,4],"strokeWidth":1.2},
 "encoding":{"x":{"field":"i","type":"quantitative","scale":{"domain":[-0.7,245.1],"nice":false,"zero":false},"axis":null},
  "y":{"field":"p","type":"quantitative","scale":{"domain":[2715.9,2990.2],"nice":false,"zero":false},"axis":null}}},
{"data":{"name":"leads"},"mark":{"type":"line","strokeWidth":1.2},
 "encoding":{"x":{"field":"i","type":"quantitative","scale":{"domain":[-0.7,245.1],"nice":false,"zero":false},"axis":null},
  "y":{"field":"p","type":"quantitative","scale":{"domain":[2715.9,2990.2],"nice":false,"zero":false},"axis":null},
  "detail":{"field":"g","type":"nominal"},
  "color":{"condition":{"test":"datum.k == 'hi'","value":"#3399ff"},"value":"#2f4f4f"}}},
{"data":{"name":"lbox"},"mark":{"type":"rect","fill":"#ffffff","strokeWidth":1.2},
 "encoding":{"x":{"field":"i","type":"quantitative","scale":{"domain":[-0.7,245.1],"nice":false,"zero":false},"axis":null},"x2":{"field":"i2"},
  "y":{"field":"p","type":"quantitative","scale":{"domain":[2715.9,2990.2],"nice":false,"zero":false},"axis":null},"y2":{"field":"p2"},
  "stroke":{"condition":{"test":"datum.k == 'hi'","value":"#3399ff"},"value":"#336666"}}},
{"data":{"name":"lbox"},"mark":{"type":"text","align":"center","baseline":"middle","font":"Liberation Mono","fontSize":14.5},
 "encoding":{"x":{"field":"ci","type":"quantitative","scale":{"domain":[-0.7,245.1],"nice":false,"zero":false},"axis":null},
  "y":{"field":"cp","type":"quantitative","scale":{"domain":[2715.9,2990.2],"nice":false,"zero":false},"axis":null},
  "text":{"field":"t"},
  "color":{"condition":{"test":"datum.k == 'hi'","value":"#3399ff"},"value":"#2f4f4f"}}},
{"data":{"name":"ptxt"},"mark":{"type":"text","align":"left","baseline":"middle","font":"Liberation Mono","fontSize":14.5},
 "encoding":{"x":{"field":"i","type":"quantitative","scale":{"domain":[-0.7,245.1],"nice":false,"zero":false},"axis":null},
  "y":{"field":"p","type":"quantitative","scale":{"domain":[2715.9,2990.2],"nice":false,"zero":false},"axis":null},
  "text":{"field":"t"},
  "color":{"condition":{"test":"datum.k == 'tm'","value":"#2f6f6f"},"value":"#1a1a1a"}}},
{"data":{"values":[{"i":22,"p":2722.0}]},"mark":{"type":"point","shape":"triangle-up","filled":true,"color":"#ff0000","size":45,"opacity":1},
 "encoding":{"x":{"field":"i","type":"quantitative","scale":{"domain":[-0.7,245.1],"nice":false,"zero":false},"axis":null},
  "y":{"field":"p","type":"quantitative","scale":{"domain":[2715.9,2990.2],"nice":false,"zero":false},"axis":null}}},
{"data":{"values":[{"i":22,"p":2721.0,"p2":2716.3}]},"mark":{"type":"rule","color":"#ff0000","strokeWidth":2.5},
 "encoding":{"x":{"field":"i","type":"quantitative","scale":{"domain":[-0.7,245.1],"nice":false,"zero":false},"axis":null},
  "y":{"field":"p","type":"quantitative","scale":{"domain":[2715.9,2990.2],"nice":false,"zero":false},"axis":null},"y2":{"field":"p2"}}},
{"data":{"name":"zs"},"mark":{"type":"text","align":"center","baseline":"middle","font":"Liberation Mono, Noto Sans CJK SC","fontSize":16,"color":"#2f6060"},
 "encoding":{"x":{"field":"i","type":"quantitative","scale":{"domain":[-0.7,245.1],"nice":false,"zero":false},"axis":null},
  "y":{"field":"p","type":"quantitative","scale":{"domain":[2715.9,2990.2],"nice":false,"zero":false},"axis":null},
  "text":{"field":"t"}}},
{"data":{"values":[{"i":204.6,"p":2943.7,"t":"30F中枢"}]},"mark":{"type":"text","align":"center","baseline":"middle","font":"Liberation Serif, Noto Sans CJK SC","fontSize":18,"fontWeight":"bold","color":"#3399ff"},
 "encoding":{"x":{"field":"i","type":"quantitative","scale":{"domain":[-0.7,245.1],"nice":false,"zero":false},"axis":null},
  "y":{"field":"p","type":"quantitative","scale":{"domain":[2715.9,2990.2],"nice":false,"zero":false},"axis":null},
  "text":{"field":"t"}}},
{"data":{"name":"notes"},"mark":{"type":"text","align":"left","baseline":"middle","font":"Liberation Serif, Noto Sans CJK SC","fontSize":22,"color":"#000000"},
 "encoding":{"x":{"field":"i","type":"quantitative","scale":{"domain":[-0.7,245.1],"nice":false,"zero":false},"axis":null},
  "y":{"field":"p","type":"quantitative","scale":{"domain":[2715.9,2990.2],"nice":false,"zero":false},"axis":null},
  "text":{"field":"t"}}},
{"data":{"name":"ndates"},"mark":{"type":"text","align":"left","baseline":"middle","font":"Liberation Serif","fontSize":17.5,"fontWeight":"bold","color":"#000000"},
 "encoding":{"x":{"field":"i","type":"quantitative","scale":{"domain":[-0.7,245.1],"nice":false,"zero":false},"axis":null},
  "y":{"field":"p","type":"quantitative","scale":{"domain":[2715.9,2990.2],"nice":false,"zero":false},"axis":null},
  "text":{"field":"t"}}},
{"data":{"values":[{"i":0,"t":"上证指数"}]},"mark":{"type":"text","align":"left","baseline":"middle","font":"Noto Sans CJK SC","fontSize":15.5,"color":"#000000"},
 "encoding":{"x":{"field":"i","type":"quantitative","scale":{"domain":[-0.7,245.1],"nice":false,"zero":false},"axis":null},
  "y":{"datum":2983.8,"type":"quantitative","scale":{"domain":[2715.9,2990.2],"nice":false,"zero":false},"axis":null},
  "text":{"field":"t"}}},
{"data":{"name":"hdr"},"mark":{"type":"text","align":"left","baseline":"middle","font":"Liberation Mono, Noto Sans CJK SC","fontSize":15},
 "encoding":{"x":{"field":"i","type":"quantitative","scale":{"domain":[-0.7,245.1],"nice":false,"zero":false},"axis":null},
  "y":{"datum":2970.9,"type":"quantitative","scale":{"domain":[2715.9,2990.2],"nice":false,"zero":false},"axis":null},
  "text":{"field":"t"},
  "color":{"condition":[{"test":"datum.k == 'u'","value":"#ff0000"},{"test":"datum.k == 'd'","value":"#1a1aff"},{"test":"datum.k == 'c'","value":"#3366ff"}],"value":"#000000"}}},
{"data":{"values":[{"i":245.6,"i2":260.9,"p":2930.9,"p2":2921.5}]},"mark":{"type":"rect","fill":"#e6f2e6"},
 "encoding":{"x":{"field":"i","type":"quantitative","scale":{"domain":[-0.7,245.1],"nice":false,"zero":false},"axis":null},"x2":{"field":"i2"},
  "y":{"field":"p","type":"quantitative","scale":{"domain":[2715.9,2990.2],"nice":false,"zero":false},"axis":null},"y2":{"field":"p2"}}},
{"data":{"values":[{"i":247.4,"p":2926.2,"t":"2925.4"}]},"mark":{"type":"text","align":"left","baseline":"middle","font":"Liberation Mono","fontSize":14,"color":"#ff0000"},
 "encoding":{"x":{"field":"i","type":"quantitative","scale":{"domain":[-0.7,245.1],"nice":false,"zero":false},"axis":null},
  "y":{"field":"p","type":"quantitative","scale":{"domain":[2715.9,2990.2],"nice":false,"zero":false},"axis":null},
  "text":{"field":"t"}}},
{"data":{"values":[{"i":247.0,"p":2710.6,"t":"5分钟"}]},"mark":{"type":"text","align":"left","baseline":"middle","font":"Noto Sans CJK SC","fontSize":13.5,"color":"#000000"},
 "encoding":{"x":{"field":"i","type":"quantitative","scale":{"domain":[-0.7,245.1],"nice":false,"zero":false},"axis":null},
  "y":{"field":"p","type":"quantitative","scale":{"domain":[2715.9,2990.2],"nice":false,"zero":false},"axis":null},
  "text":{"field":"t"}}},
{"data":{"name":"pfr"},"mark":{"type":"rule","color":"#8a8a8a","strokeWidth":1},
 "encoding":{"x":{"field":"i","type":"quantitative","scale":{"domain":[-0.7,245.1],"nice":false,"zero":false},"axis":null},"x2":{"field":"i2"},
  "y":{"field":"p","type":"quantitative","scale":{"domain":[2715.9,2990.2],"nice":false,"zero":false},"axis":null},"y2":{"field":"p2"}}}
]
},
{
"width":1062,"height":108,
"layer":[
{"data":{"name":"k"},"mark":{"type":"bar","size":3.3,"strokeWidth":1},
 "encoding":{"x":{"field":"i","type":"quantitative","scale":{"domain":[-0.7,245.1],"nice":false,"zero":false},"axis":null},
  "y":{"field":"v","type":"quantitative","scale":{"domain":[-116000,737000],"nice":false,"zero":false},
   "axis":{"orient":"right","values":[0,500000],"format":"d","grid":true,"gridColor":"#9a9a9a","gridDash":[2,4],"tickSize":6,"tickColor":"#606060","domain":false,"labelAlign":"right","labelBaseline":"middle","labelPadding":63,"labelFont":"Liberation Mono","labelFontSize":14,"labelColor":"#000000","title":null}},
  "y2":{"datum":0},
  "fill":{"condition":{"test":"datum.c >= datum.o","value":"#ffffff"},"value":"#0000ff"},
  "stroke":{"condition":{"test":"datum.c >= datum.o","value":"#ff0000"},"value":"#0000ff"}}},
{"data":{"name":"k"},"transform":[{"window":[{"op":"mean","field":"v","as":"ma"}],"frame":[-19,0],"sort":[{"field":"i"}]}],
 "mark":{"type":"line","color":"#8b1010","strokeWidth":1.2},
 "encoding":{"x":{"field":"i","type":"quantitative","scale":{"domain":[-0.7,245.1],"nice":false,"zero":false},"axis":null},
  "y":{"field":"ma","type":"quantitative","scale":{"domain":[-116000,737000],"nice":false,"zero":false},"axis":null}}},
{"data":{"name":"k"},"transform":[{"window":[{"op":"mean","field":"v","as":"ma"}],"frame":[-9,0],"sort":[{"field":"i"}]}],
 "mark":{"type":"line","color":"#a8a8a8","strokeWidth":1.2},
 "encoding":{"x":{"field":"i","type":"quantitative","scale":{"domain":[-0.7,245.1],"nice":false,"zero":false},"axis":null},
  "y":{"field":"ma","type":"quantitative","scale":{"domain":[-116000,737000],"nice":false,"zero":false},"axis":null}}},
{"data":{"name":"k"},"transform":[{"window":[{"op":"mean","field":"v","as":"ma"}],"frame":[-4,0],"sort":[{"field":"i"}]}],
 "mark":{"type":"line","color":"#ff00ff","strokeWidth":1.1},
 "encoding":{"x":{"field":"i","type":"quantitative","scale":{"domain":[-0.7,245.1],"nice":false,"zero":false},"axis":null},
  "y":{"field":"ma","type":"quantitative","scale":{"domain":[-116000,737000],"nice":false,"zero":false},"axis":null}}},
{"data":{"name":"vh"},"mark":{"type":"text","align":"left","baseline":"middle","font":"Liberation Mono","fontSize":15},
 "encoding":{"x":{"field":"i","type":"quantitative","scale":{"domain":[-0.7,245.1],"nice":false,"zero":false},"axis":null},
  "y":{"datum":618000,"type":"quantitative","scale":{"domain":[-116000,737000],"nice":false,"zero":false},"axis":null},
  "text":{"field":"t"},
  "color":{"condition":[{"test":"datum.k == 'b'","value":"#2828c8"},{"test":"datum.k == 'c'","value":"#ff00ff"},{"test":"datum.k == 'd'","value":"#a0a0a0"},{"test":"datum.k == 'e'","value":"#a01010"}],"value":"#000000"}}},
{"data":{"values":[{"i":246.3,"i2":253.5,"v":49800,"v2":-92400}]},"mark":{"type":"rect","fill":"#ffffff","stroke":"#606060","strokeWidth":1},
 "encoding":{"x":{"field":"i","type":"quantitative","scale":{"domain":[-0.7,245.1],"nice":false,"zero":false},"axis":null},"x2":{"field":"i2"},
  "y":{"field":"v","type":"quantitative","scale":{"domain":[-116000,737000],"nice":false,"zero":false},"axis":null},"y2":{"field":"v2"}}},
{"data":{"values":[{"i":249.9,"t":"X10"}]},"mark":{"type":"text","align":"center","baseline":"middle","font":"Liberation Mono","fontSize":13.5,"color":"#000000"},
 "encoding":{"x":{"field":"i","type":"quantitative","scale":{"domain":[-0.7,245.1],"nice":false,"zero":false},"axis":null},
  "y":{"datum":-21000,"type":"quantitative","scale":{"domain":[-116000,737000],"nice":false,"zero":false},"axis":null},
  "text":{"field":"t"}}},
{"data":{"name":"vfr"},"mark":{"type":"rule","color":"#8a8a8a","strokeWidth":1},
 "encoding":{"x":{"field":"i","type":"quantitative","scale":{"domain":[-0.7,245.1],"nice":false,"zero":false},"axis":null},"x2":{"field":"i2"},
  "y":{"field":"v","type":"quantitative","scale":{"domain":[-116000,737000],"nice":false,"zero":false},"axis":null},"y2":{"field":"v2"}}}
]
},
{
"width":1062,"height":132,
"layer":[
{"data":{"name":"k"},"transform":[{"window":[{"op":"lag","field":"m","as":"mp"}],"sort":[{"field":"i"}]}],
 "mark":{"type":"rule","strokeWidth":2.6},
 "encoding":{"x":{"field":"i","type":"quantitative","scale":{"domain":[-0.7,245.1],"nice":false,"zero":false},"axis":null},
  "y":{"field":"m","type":"quantitative","scale":{"domain":[-31.9,26.8],"nice":false,"zero":false},
   "axis":{"orient":"right","values":[0,-20],"format":".2f","grid":true,"gridColor":"#9a9a9a","gridDash":[2,4],"tickSize":6,"tickColor":"#606060","domain":false,"labelAlign":"right","labelBaseline":"middle","labelPadding":63,"labelFont":"Liberation Mono","labelFontSize":14,"labelColor":"#000000","title":null}},
  "y2":{"datum":0},
  "color":{"condition":[{"test":"datum.m >= 0 && datum.m >= datum.mp","value":"#f03c1e"},{"test":"datum.m >= 0","value":"#e6b41e"},{"test":"datum.m < datum.mp","value":"#2f78e4"}],"value":"#6cb424"}}},
{"data":{"name":"tl"},"mark":{"type":"line","strokeWidth":2.6},
 "encoding":{"x":{"field":"i","type":"quantitative","scale":{"domain":[-0.7,245.1],"nice":false,"zero":false},"axis":null},
  "y":{"field":"m","type":"quantitative","scale":{"domain":[-31.9,26.8],"nice":false,"zero":false},"axis":null},
  "detail":{"field":"g","type":"nominal"},
  "color":{"condition":[{"test":"datum.k == 'b'","value":"#1c1cf0"},{"test":"datum.k == 'v'","value":"#8c8ce6"}],"value":"#202080"}}},
{"data":{"name":"dl"},"mark":{"type":"line","color":"#ff00ff","strokeWidth":1.1},
 "encoding":{"x":{"field":"i","type":"quantitative","scale":{"domain":[-0.7,245.1],"nice":false,"zero":false},"axis":null},
  "y":{"field":"e","type":"quantitative","scale":{"domain":[-31.9,26.8],"nice":false,"zero":false},"axis":null}}},
{"data":{"name":"dl"},"mark":{"type":"line","color":"#1a1a7a","strokeWidth":1.1},
 "encoding":{"x":{"field":"i","type":"quantitative","scale":{"domain":[-0.7,245.1],"nice":false,"zero":false},"axis":null},
  "y":{"field":"d","type":"quantitative","scale":{"domain":[-31.9,26.8],"nice":false,"zero":false},"axis":null}}},
{"data":{"name":"ml"},"mark":{"type":"text","align":"center","baseline":"middle","font":"Liberation Mono","fontSize":16,"clip":true},
 "encoding":{"x":{"field":"i","type":"quantitative","scale":{"domain":[-0.7,245.1],"nice":false,"zero":false},"axis":null},
  "y":{"field":"m","type":"quantitative","scale":{"domain":[-31.9,26.8],"nice":false,"zero":false},"axis":null},
  "text":{"field":"t"},
  "color":{"condition":{"test":"datum.k == 'r'","value":"#ff2a2a"},"value":"#3c9a1e"}}},
{"data":{"name":"mh"},"mark":{"type":"text","align":"left","baseline":"middle","font":"Liberation Mono, Noto Sans CJK SC","fontSize":15},
 "encoding":{"x":{"field":"i","type":"quantitative","scale":{"domain":[-0.7,245.1],"nice":false,"zero":false},"axis":null},
  "y":{"datum":22.4,"type":"quantitative","scale":{"domain":[-31.9,26.8],"nice":false,"zero":false},"axis":null},
  "text":{"field":"t"},
  "color":{"condition":[{"test":"datum.k == 'b'","value":"#000080"},{"test":"datum.k == 'c'","value":"#ff00ff"},{"test":"datum.k == 'd'","value":"#a0a0a0"},{"test":"datum.k == 'e'","value":"#ff0000"},{"test":"datum.k == 'f'","value":"#008000"}],"value":"#000000"}}},
{"data":{"name":"mfr"},"mark":{"type":"rule","color":"#8a8a8a","strokeWidth":1},
 "encoding":{"x":{"field":"i","type":"quantitative","scale":{"domain":[-0.7,245.1],"nice":false,"zero":false},"axis":null},"x2":{"field":"i2"},
  "y":{"field":"m","type":"quantitative","scale":{"domain":[-31.9,26.8],"nice":false,"zero":false},"axis":null},"y2":{"field":"m2"}}}
]
},
{
"width":915,"height":20,
"data":{"name":"tabs"},
"layer":[
{"mark":{"type":"rect","fill":"#ffffff","stroke":"#a0a0a0","strokeWidth":1},
 "encoding":{"x":{"field":"t","type":"nominal","sort":null,"scale":{"paddingInner":0,"paddingOuter":0},"axis":null}}},
{"mark":{"type":"text","align":"center","baseline":"middle","font":"Liberation Mono, Noto Sans CJK SC","fontSize":13,"color":"#000000"},
 "encoding":{"x":{"field":"t","type":"nominal","sort":null,"scale":{"paddingInner":0,"paddingOuter":0},"axis":null},"text":{"field":"t"}}}
]
}
]
}
